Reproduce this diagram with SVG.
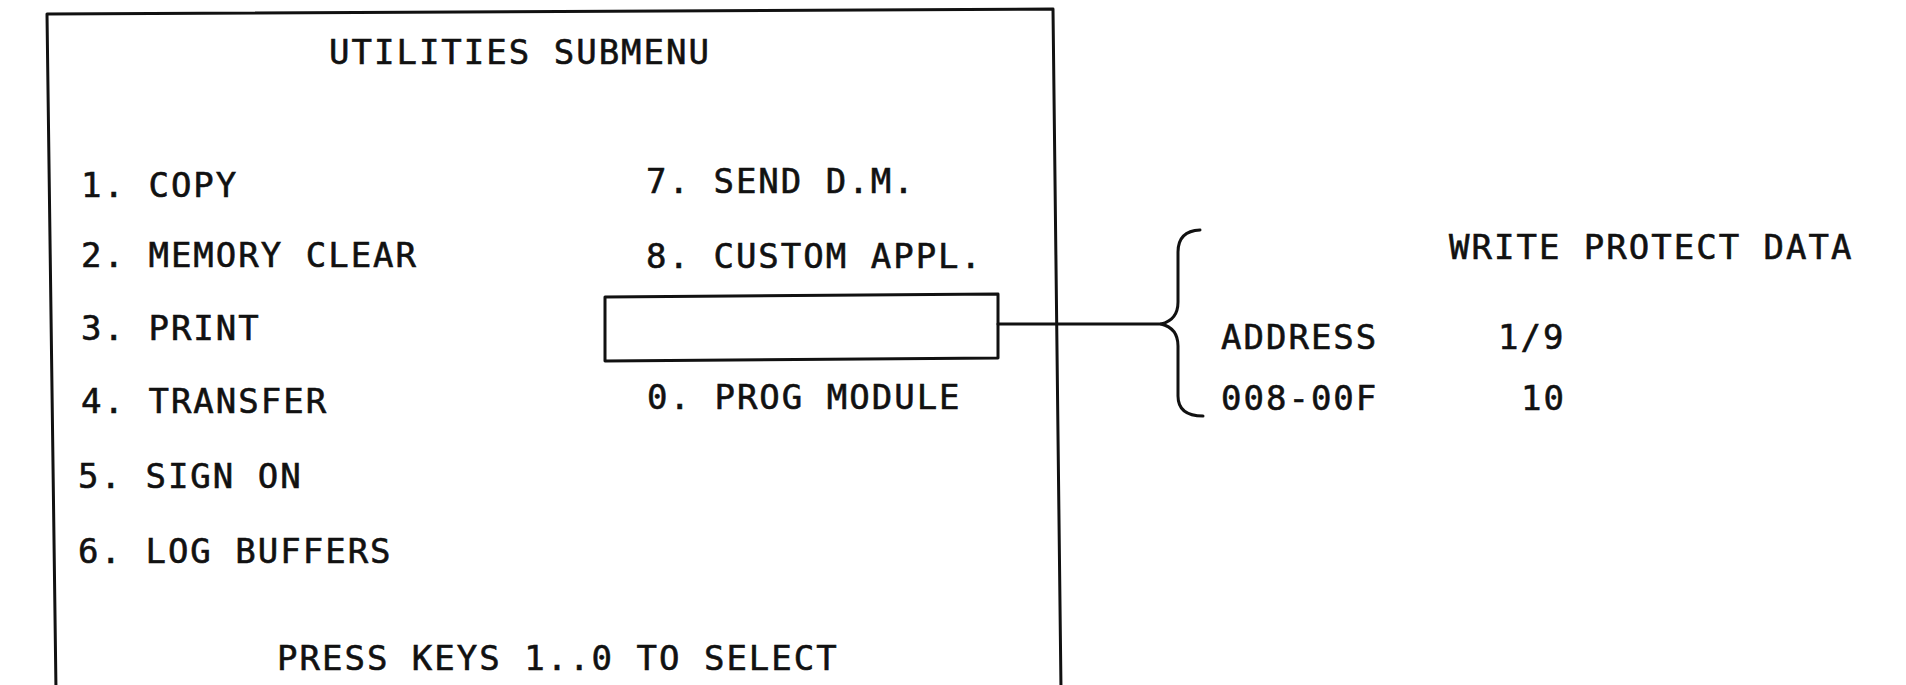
<svg xmlns="http://www.w3.org/2000/svg" width="1906" height="685" viewBox="0 0 1906 685">
  <style>
    .t { font-family: "DejaVu Sans Mono", "Liberation Mono", monospace; font-size: 34px; letter-spacing: 2px; fill: #111; stroke: #111; stroke-width: 0.6px; }
    .ln { fill: none; stroke: #111; stroke-width: 3; stroke-linejoin: round; stroke-linecap: round; }
  </style>
  <rect width="1906" height="685" fill="#fff"/>

  <!-- Utilities submenu screen -->
  <g id="screen">
    <path class="ln" d="M47,14 L1053,9 L1061,690 M47,14 L56,690"/>
    <text class="t" x="329" y="64">UTILITIES SUBMENU</text>
    <text class="t" x="81" y="197">1. COPY</text>
    <text class="t" x="81" y="267">2. MEMORY CLEAR</text>
    <text class="t" x="81" y="340">3. PRINT</text>
    <text class="t" x="81" y="413">4. TRANSFER</text>
    <text class="t" x="78" y="488">5. SIGN ON</text>
    <text class="t" x="78" y="563">6. LOG BUFFERS</text>
    <text class="t" x="646" y="193">7. SEND D.M.</text>
    <text class="t" x="646" y="268">8. CUSTOM APPL.</text>
    <text class="t" x="647" y="409">0. PROG MODULE</text>
    <text class="t" x="277" y="670">PRESS KEYS 1..0 TO SELECT</text>
  </g>

  <!-- Blank menu slot -->
  <g id="slot">
    <path class="ln" d="M605,297 L998,294 L998,358 L605,361 Z"/>
  </g>

  <!-- Connector from slot to brace -->
  <g id="connectors">
    <path class="ln" d="M998,324 L1161,324"/>
  </g>

  <!-- Brace and write protect data -->
  <g id="write-protect">
    <path class="ln" d="M1200,230 Q1178,231 1178,252 L1178,302 Q1178,320 1161,324 Q1178,328 1178,346 L1178,396 Q1178,416 1203,416"/>
    <text class="t" x="1449" y="259">WRITE PROTECT DATA</text>
    <text class="t" x="1221" y="349">ADDRESS</text>
    <text class="t" x="1498" y="349">1/9</text>
    <text class="t" x="1221" y="410">008-00F</text>
    <text class="t" x="1521" y="410">10</text>
  </g>
</svg>
